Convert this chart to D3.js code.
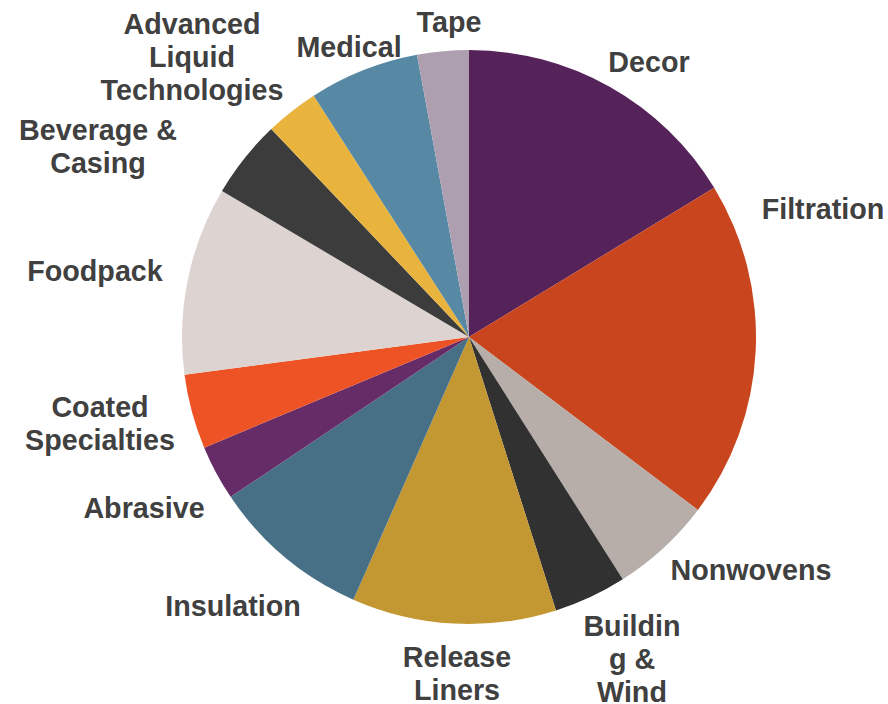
<!DOCTYPE html>
<html>
<head>
<meta charset="utf-8">
<script src="https://cdn.jsdelivr.net/npm/d3@7"></script>
<style>
  body { margin: 0; background: #fff; }
</style>
</head>
<body>
<div id="pieChart"></div>
<script>
// segment shares (%), clockwise from 12 o'clock
var segments = ['Decor', 'Filtration', 'Nonwovens', 'Building & Wind', 'Release Liners',
  'Insulation', 'Abrasive', 'Coated Specialties', 'Foodpack', 'Beverage & Casing',
  'Advanced Liquid Technologies', 'Medical', 'Tape'];
var shares = [16.3, 19.0, 5.7, 4.1, 11.5, 9.0, 3.1, 4.2, 10.6, 4.4, 3.0, 6.2, 2.9];

// label text as it wraps in the picture
var labelLines = [
  ['Decor'], ['Filtration'], ['Nonwovens'], ['Buildin', 'g &', 'Wind'], ['Release', 'Liners'],
  ['Insulation'], ['Abrasive'], ['Coated', 'Specialties'], ['Foodpack'], ['Beverage &', 'Casing'],
  ['Advanced', 'Liquid', 'Technologies'], ['Medical'], ['Tape']
];

var colors = ['#55235a', '#c8451d', '#b7aea9', '#313131', '#c39833', '#477086', '#652c68',
  '#ee5325', '#ddd4d1', '#3c3c3c', '#e9b43e', '#5789a4', '#ae9fb0'];

// layout: label anchor (centre x, first baseline y), relative to the pie centre
var labelPos = [[180, -265], [354, -118], [282, 243], [163, 299], [-12, 330],
  [-236, 279], [-325, 181], [-369, 80], [-374, -56], [-371, -197],
  [-277, -303], [-120, -280], [-20, -305]];

var width = 888, height = 704;
var cx = 469, cy = 337, radius = 287;
var lineH = 33;

function drawPie() {
  var svg = d3.select('#pieChart')
    .append('svg')
    .attr('width', width)
    .attr('height', height);

  var g = svg.append('g')
    .attr('transform', `translate(${cx}, ${cy})`);

  var pie = d3.pie().sort(null).value(d => d);
  var arc = d3.arc().innerRadius(0).outerRadius(radius);
  var arcs = pie(shares);

  g.selectAll('path')
    .data(arcs)
    .join('path')
      .attr('d', arc)
      .attr('fill', (d, i) => colors[i]);

  var labels = g.selectAll('text')
    .data(arcs)
    .join('text')
      .attr('text-anchor', 'middle')
      .attr('font-family', '"Liberation Sans", Arial, sans-serif')
      .attr('font-weight', 'bold')
      .attr('font-size', '28.7px')
      .attr('fill', '#404040');

  labels.each(function(d, i) {
    var t = d3.select(this);
    labelLines[i].forEach((line, j) => {
      t.append('tspan')
        .attr('x', labelPos[i][0])
        .attr('y', labelPos[i][1] + j * lineH)
        .text(line);
    });
  });

  return svg.node();
}

window.onload = drawPie;
</script>
</body>
</html>
